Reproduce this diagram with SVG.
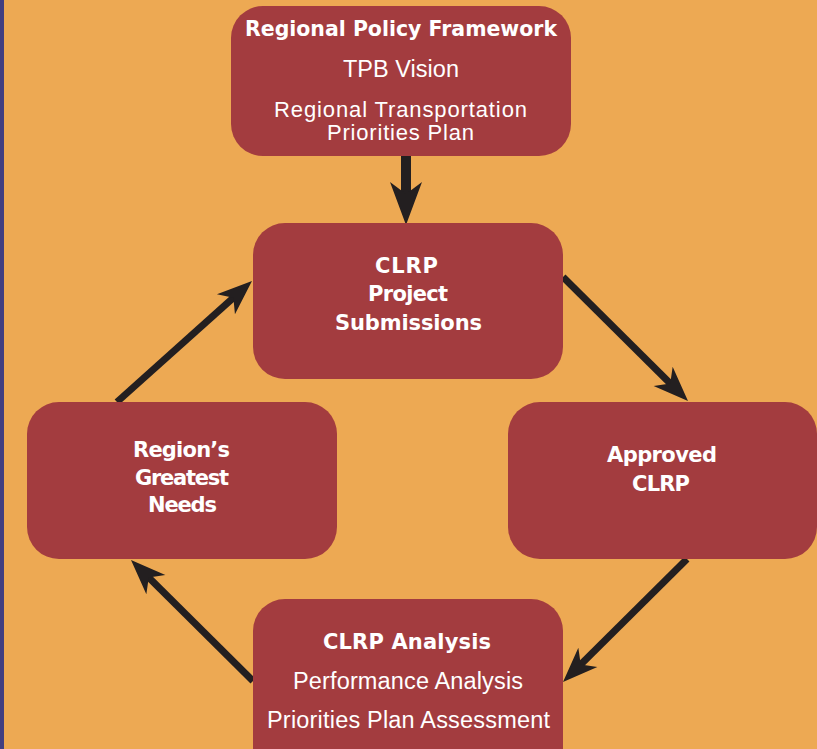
<svg xmlns="http://www.w3.org/2000/svg" width="817" height="749" viewBox="0 0 817 749">
  <style>
    .box { fill: #A33C3F; }
    .b { font-family: "DejaVu Sans", "Liberation Sans", sans-serif; font-weight: bold; font-size: 21px; fill: #FFFFFF; text-anchor: middle; }
    .r { font-family: "Liberation Sans", Arial, sans-serif; font-size: 23.5px; fill: #FFFFFF; text-anchor: middle; }
    .rs { font-family: "Liberation Sans", Arial, sans-serif; font-size: 22px; fill: #FFFFFF; text-anchor: middle; }
    .conn { stroke: #231F20; stroke-width: 7; fill: none; }
  </style>
  <defs>
    <marker id="ah" markerUnits="userSpaceOnUse" orient="auto" refX="0" refY="0" markerWidth="60" markerHeight="40" overflow="visible">
      <path d="M20,0 L-15,-13.5 L-5,0 L-15,13.5 Z" fill="#231F20"/>
    </marker>
  </defs>
  <rect x="0" y="0" width="817" height="749" fill="#EDA953"/>
  <rect x="0" y="0" width="4" height="749" fill="#433F80"/>

  <g id="connectors">
    <line x1="406" y1="156" x2="406" y2="200" stroke="#231F20" stroke-width="10"/>
    <path d="M406,225 L390,182 L406,194 L422,182 Z" fill="#231F20"/>
    <line class="conn" x1="563" y1="277" x2="673.8" y2="386.9" marker-end="url(#ah)"/>
    <line class="conn" x1="687" y1="559" x2="577.2" y2="667.9" marker-end="url(#ah)"/>
    <line class="conn" x1="253" y1="681" x2="145.2" y2="574.1" marker-end="url(#ah)"/>
    <line class="conn" x1="117" y1="402" x2="237.1" y2="294.3" marker-end="url(#ah)"/>
  </g>

  <g id="policy">
    <rect class="box" x="231" y="6" width="340" height="150" rx="32"/>
    <text class="b" x="401" y="36" textLength="312" lengthAdjust="spacingAndGlyphs">Regional Policy Framework</text>
    <text class="r" x="401" y="77" textLength="116">TPB Vision</text>
    <text class="rs" x="400.5" y="116.5" textLength="253">Regional Transportation</text>
    <text class="rs" x="400.5" y="140" textLength="147">Priorities Plan</text>
  </g>

  <g id="submissions">
    <rect class="box" x="253" y="223" width="310" height="156" rx="32"/>
    <text class="b" x="406.5" y="273" textLength="63">CLRP</text>
    <text class="b" x="408" y="301" textLength="80">Project</text>
    <text class="b" x="408.5" y="330" textLength="147">Submissions</text>
  </g>

  <g id="needs">
    <rect class="box" x="27" y="402" width="310" height="157" rx="32"/>
    <text class="b" x="181.5" y="457" textLength="97">Region’s</text>
    <text class="b" x="182" y="485" textLength="94">Greatest</text>
    <text class="b" x="182.5" y="512" textLength="69">Needs</text>
  </g>

  <g id="approved">
    <rect class="box" x="508" y="402" width="309" height="157" rx="32"/>
    <text class="b" x="662" y="462" textLength="110">Approved</text>
    <text class="b" x="661" y="490.5" textLength="58">CLRP</text>
  </g>

  <g id="analysis">
    <rect class="box" x="253" y="599" width="310" height="190" rx="32"/>
    <text class="b" x="407" y="649" textLength="168">CLRP Analysis</text>
    <text class="r" x="408" y="689" textLength="230">Performance Analysis</text>
    <text class="r" x="408.5" y="728" textLength="283">Priorities Plan Assessment</text>
  </g>
</svg>
